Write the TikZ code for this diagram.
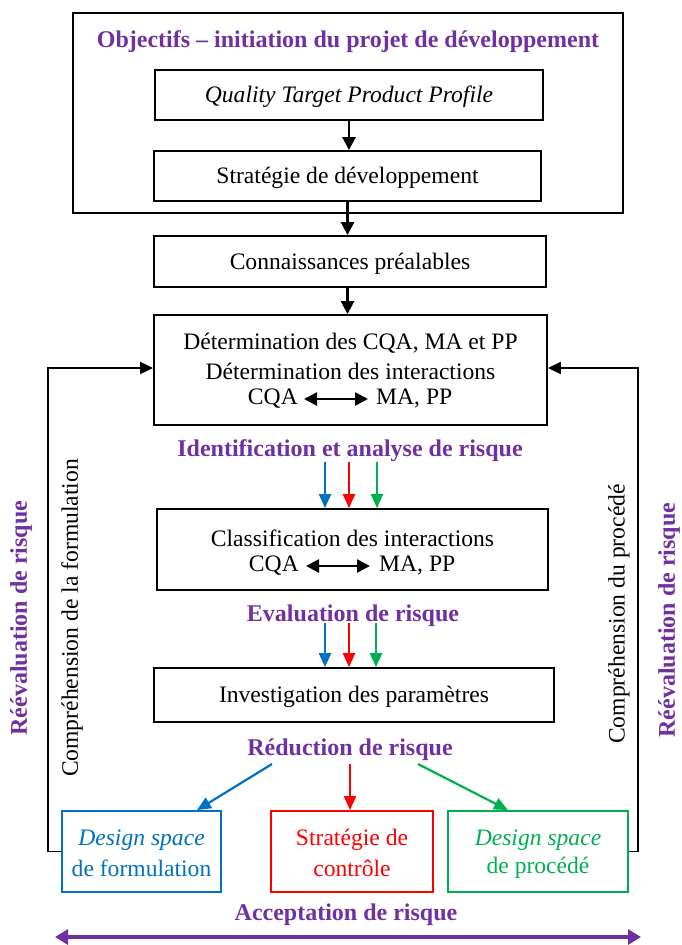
\documentclass[tikz,border=0pt]{standalone}
\usepackage{fontspec}
\setmainfont{Liberation Serif}
\usetikzlibrary{arrows.meta}
\definecolor{violet}{HTML}{7030A0}
\definecolor{bleu}{HTML}{0070C0}
\definecolor{rouge}{HTML}{FF0000}
\definecolor{vert}{HTML}{00B050}
\begin{document}
\begin{tikzpicture}[x=1pt,y=-1pt,
  box/.style={draw=black,line width=1.8pt,rectangle,inner sep=0pt},
  txt/.style={font=\fontsize{23.6}{26}\selectfont,inner sep=0pt,anchor=center,yshift=-2pt},
  ttl/.style={font=\fontsize{24}{26}\selectfont\bfseries,text=violet,inner sep=0pt,yshift=-2pt},
  vtxt/.style={font=\fontsize{23.6}{26}\selectfont,inner sep=0pt,anchor=center,rotate=90},
  vttl/.style={font=\fontsize{24}{26}\selectfont\bfseries,text=violet,inner sep=0pt,rotate=90},
  flow/.style={line width=2.6pt,-{Triangle[width=13pt,length=13pt]}},
  dbl/.style={line width=2.6pt,{Triangle[width=13pt,length=13pt]}-{Triangle[width=13pt,length=13pt]}},
  risk/.style={line width=2.2pt,-{Triangle[width=12pt,length=14pt]}},
  loop/.style={line width=1.8pt},
]
\useasboundingbox (0,0) rectangle (681,945);

% objectives block
\node[box,minimum width=550pt,minimum height=200pt] (outer) at (348,113) {};
\node[ttl] (objtitle) at (348,40) {Objectifs -- initiation du projet de développement};
\node[box,minimum width=388pt,minimum height=50pt] (qtpp) at (349,95) {};
\node[txt,font=\fontsize{23.6}{26}\selectfont\itshape] (qtppt) at (qtpp.center) {Quality Target Product Profile};
\node[box,minimum width=387pt,minimum height=50pt] (strat) at (347.5,176) {};
\node[txt] (stratt) at (strat.center) {Stratégie de développement};

% knowledge and determination
\node[box,minimum width=392pt,minimum height=51pt] (conn) at (350,261.5) {};
\node[txt] (connt) at (conn.center) {Connaissances préalables};
\node[box,minimum width=393pt,minimum height=110pt] (det) at (350.5,370) {};
\node[txt] (det1) at (350.5,341) {Détermination des CQA, MA et PP};
\node[txt] (det2) at (350.5,369) {Détermination des interactions};
\node[txt,anchor=east] (detcqa) at (298,397) {CQA};
\node[txt,anchor=west] (detmapp) at (376,397) {MA, PP};

\draw[flow] (qtpp.south) -- (qtpp.south |- strat.north);
\draw[flow] (strat.south) -- (strat.south |- conn.north);
\draw[flow] (conn.south -| strat.south) -- (strat.south |- det.north);
\draw[dbl] ([xshift=6pt]detcqa.east) -- ([xshift=-8pt]detmapp.west);

% identification
\node[ttl] (ident) at (350,449) {Identification et analyse de risque};
\node[box,minimum width=391pt,minimum height=81pt] (class) at (352.5,549.5) {};
\node[txt] (class1) at (352.5,536) {Classification des interactions};
\node[txt,anchor=east] (clcqa) at (299,564) {CQA};
\node[txt,anchor=west] (clmapp) at (379,564) {MA, PP};
\draw[dbl] ([xshift=7pt]clcqa.east) -- ([xshift=-9pt]clmapp.west);

\coordinate (ib) at (325,462);
\coordinate (ir) at (349,462);
\coordinate (ig) at (377,462);
\draw[risk,bleu]  (ib) -- (ib |- class.north);
\draw[risk,rouge] (ir) -- (ir |- class.north);
\draw[risk,vert]  (ig) -- (ig |- class.north);

% evaluation
\node[ttl] (eval) at (353,614) {Evaluation de risque};
\node[box,minimum width=400pt,minimum height=54pt] (inv) at (354,695) {};
\node[txt] (invt) at (inv.center) {Investigation des paramètres};
\coordinate (eb) at (325,623);
\coordinate (er) at (349,623);
\coordinate (eg) at (376,623);
\draw[risk,bleu]  (eb) -- (eb |- inv.north);
\draw[risk,rouge] (er) -- (er |- inv.north);
\draw[risk,vert]  (eg) -- (eg |- inv.north);

% reduction
\node[ttl] (reduc) at (350,748) {Réduction de risque};
\node[box,draw=bleu,minimum width=159pt,minimum height=81pt] (dsf) at (141.5,851.5) {};
\node[txt,text=bleu] (dsf1) at (141.5,838) {\itshape Design space};
\node[txt,text=bleu] (dsf2) at (141.5,866) {de formulation};
\node[box,draw=rouge,minimum width=162pt,minimum height=81pt] (ctrl) at (352,851.5) {};
\node[txt,text=rouge] (ctrl1) at (352,838) {Stratégie de};
\node[txt,text=rouge] (ctrl2) at (352,866) {contrôle};
\node[box,draw=vert,minimum width=180pt,minimum height=81pt] (dsp) at (538,851.5) {};
\node[txt,text=vert] (dsp1) at (538,838) {\itshape Design space};
\node[txt,text=vert] (dsp2) at (538,866) {de procédé};

\coordinate (rb) at (272,764);
\coordinate (rr) at (350,764);
\coordinate (rg) at (418,764);
\coordinate (rbend) at (197,811);
\coordinate (rgend) at (508,811);
\draw[risk,bleu]  (rb) -- (rbend |- dsf.north);
\draw[risk,rouge] (rr) -- (rr |- ctrl.north);
\draw[risk,vert]  (rg) -- (rgend |- dsp.north);

% feedback loops
\coordinate (lb) at (48,851.5);
\coordinate (lt) at (48,368);
\coordinate (rbt) at (638,851.5);
\coordinate (rtp) at (638,368);
\draw[loop,-{Triangle[width=12pt,length=13pt]}] (dsf.west) -- (lb) -- (lt) -- (lt -| det.west);
\draw[loop,-{Triangle[width=12pt,length=13pt]}] (dsp.east) -- (rbt) -- (rtp) -- (rtp -| det.east);

\node[vtxt] (compf) at (72,618) {Compréhension de la formulation};
\node[vtxt] (compp) at (619,614) {Compréhension du procédé};
\node[vttl] (reevl) at (21,618) {Réévaluation de risque};
\node[vttl] (reevr) at (669,620) {Réévaluation de risque};

% acceptance
\node[ttl] (accept) at (346,913) {Acceptation de risque};
\coordinate (al) at (55,937);
\coordinate (ar) at (641,937);
\draw[violet,line width=4pt,{Triangle[width=15pt,length=13pt]}-{Triangle[width=15pt,length=13pt]}] (al) -- (ar);
\end{tikzpicture}
\end{document}
